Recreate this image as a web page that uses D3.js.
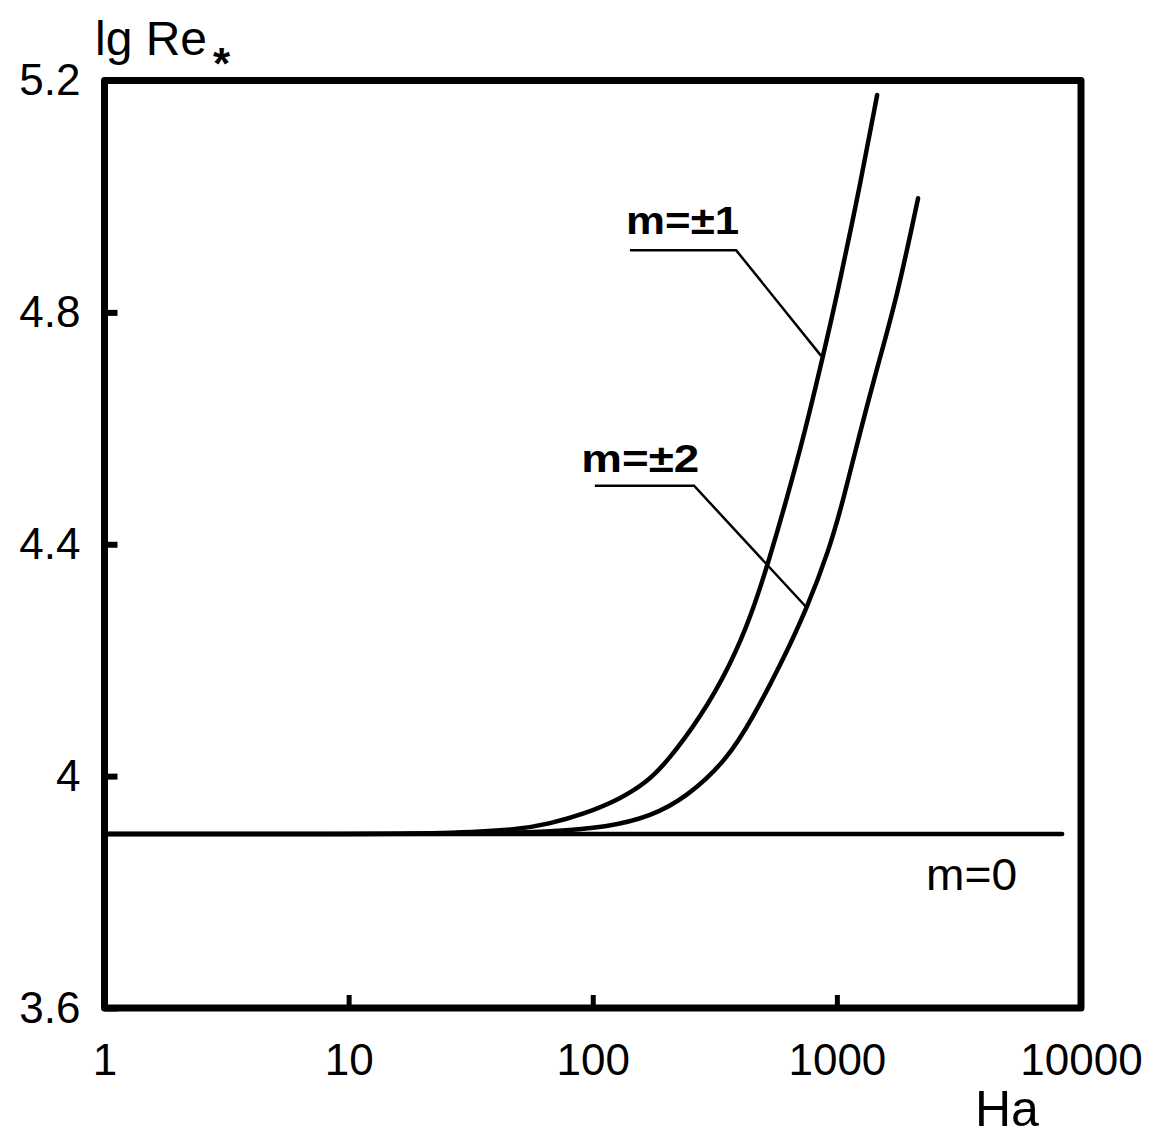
<!DOCTYPE html>
<html><head><meta charset="utf-8">
<script src="https://cdn.jsdelivr.net/npm/d3@7"></script>
<style>
html,body{margin:0;padding:0;background:#fff;}
svg{display:block;font-family:"Liberation Sans",Arial,Helvetica,sans-serif;}
</style></head>
<body>
<svg id="chart" width="1153" height="1137"></svg>
<script>
// ---- data ----
const xTicks = [1, 10, 100, 1000, 10000];
const xTickLabels = ["1", "10", "100", "1000", "10000"];
const yTicks = [3.6, 4.0, 4.4, 4.8, 5.2];
const yTickLabels = ["3.6", "4", "4.4", "4.8", "5.2"];

const seriesNames = ["m=0", "m=±1", "m=±2"];
const m0 = [[1, 3.9], [8370, 3.9]];
const m1 = [[1, 3.9], [10, 3.9], [25, 3.901], [49, 3.907], [66.8, 3.918], [91.2, 3.934], [129, 3.960],
  [167, 3.990], [201, 4.024], [275, 4.100], [365, 4.190], [449, 4.280], [532, 4.378], [625, 4.480],
  [741, 4.595], [878, 4.725], [1002, 4.830], [1257, 5.028], [1462, 5.175]];
const m2 = [[1, 3.9], [10, 3.9], [30, 3.9], [66.8, 3.904], [115, 3.912], [172, 3.930], [243, 3.964],
  [355, 4.028], [454, 4.102], [585, 4.190], [755, 4.290], [929, 4.390], [1062, 4.476], [1247, 4.595],
  [1462, 4.705], [1763, 4.826], [2151, 4.997]];

// annotation anchors (data space)
const labelAnchors = [[2320, 3.804], [137, 4.936], [89.7, 4.525]];
const leader1 = [[142, 4.907], [387, 4.907], [862, 4.725]];
const leader2 = [[102, 4.501], [260, 4.501], [755, 4.290]];

// ---- scales ----
const svg = d3.select("#chart");
const x = d3.scaleLog().domain([1, 10000]).range([104.5, 1081]);
const y = d3.scaleLinear().domain([3.6, 5.2]).range([1008, 80.5]);

// axes
const gx = svg.append("g").attr("transform", `translate(0,${y(3.6)})`)
  .call(d3.axisBottom(x).tickValues(xTicks).tickFormat((d, i) => xTickLabels[i])
    .tickSize(-13).tickSizeOuter(0).tickPadding(36));
gx.select(".domain").remove();
gx.selectAll(".tick line").attr("stroke", "#000").attr("stroke-width", 5);
gx.selectAll(".tick text").attr("font-size", 44).attr("fill", "#000");

const gy = svg.append("g").attr("transform", `translate(${x(1)},0)`)
  .call(d3.axisLeft(y).tickValues(yTicks).tickFormat((d, i) => yTickLabels[i])
    .tickSize(-13).tickSizeOuter(0).tickPadding(24));
gy.select(".domain").remove();
gy.selectAll(".tick line").attr("stroke", "#000").attr("stroke-width", 6);
gy.selectAll(".tick text").attr("font-size", 44).attr("fill", "#000");

// frame
svg.append("rect")
  .attr("x", x(1)).attr("y", y(5.2))
  .attr("width", x(10000) - x(1)).attr("height", y(3.6) - y(5.2))
  .attr("fill", "none").attr("stroke", "#000").attr("stroke-width", 7)
  .attr("stroke-linejoin", "round");

// curves
const line = d3.line().x(d => x(d[0])).y(d => y(d[1])).curve(d3.curveBasis);
const plain = d3.line().x(d => x(d[0])).y(d => y(d[1]));
[m0, m1, m2].forEach(s => {
  svg.append("path").datum(s).attr("d", line)
    .attr("fill", "none").attr("stroke", "#000").attr("stroke-width", 4.5)
    .attr("stroke-linecap", "round");
});

// leader lines
[leader1, leader2].forEach(s => {
  svg.append("path").datum(s).attr("d", plain)
    .attr("fill", "none").attr("stroke", "#000").attr("stroke-width", 2.5);
});

// labels
svg.append("text").attr("x", x(labelAnchors[0][0])).attr("y", y(labelAnchors[0][1]))
  .attr("font-size", 44).attr("textLength", 91).attr("lengthAdjust", "spacingAndGlyphs")
  .text(seriesNames[0]);
svg.append("text").attr("x", x(labelAnchors[1][0])).attr("y", y(labelAnchors[1][1]))
  .attr("font-size", 38).attr("font-weight", "bold").attr("textLength", 113).attr("lengthAdjust", "spacingAndGlyphs")
  .text(seriesNames[1]);
svg.append("text").attr("x", x(labelAnchors[2][0])).attr("y", y(labelAnchors[2][1]))
  .attr("font-size", 38).attr("font-weight", "bold").attr("textLength", 118).attr("lengthAdjust", "spacingAndGlyphs")
  .text(seriesNames[2]);

// axis titles
const yt = svg.append("text").attr("x", 95).attr("y", 55).attr("font-size", 48);
yt.append("tspan").text("lg Re");
yt.append("tspan").attr("dy", 24).attr("dx", 6).attr("font-size", 44).attr("font-weight", "bold").text("*");

svg.append("text").attr("x", x(10000) - 106).attr("y", 1126).attr("font-size", 50).text("Ha");
</script>
</body></html>
